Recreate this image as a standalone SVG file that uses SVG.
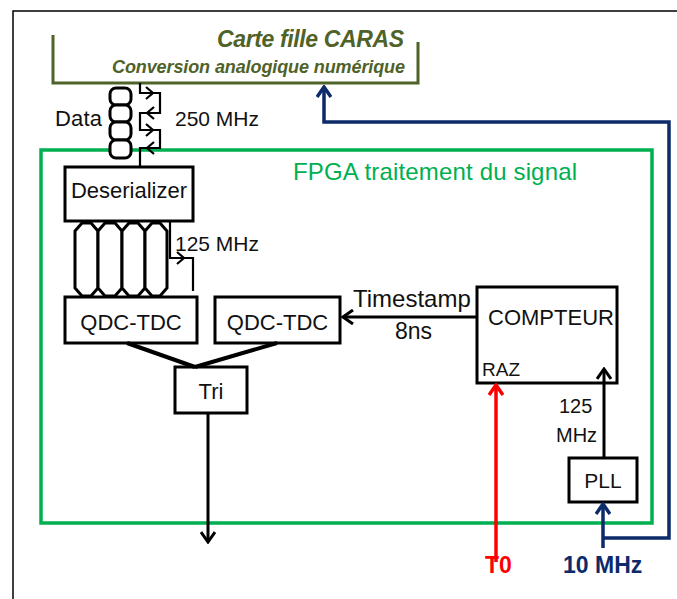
<svg xmlns="http://www.w3.org/2000/svg" width="677" height="599" viewBox="0 0 677 599">
<style>
text{font-family:"Liberation Sans",Arial,sans-serif;fill:#111}
.box{fill:#fff;stroke:#000;stroke-width:3}
.ln{fill:none;stroke:#000;stroke-width:3}
.thin{fill:none;stroke:#000;stroke-width:2.2}
.t20{font-size:20px}
.t22{font-size:22px}
.olive{fill:#4f6228;font-weight:bold;font-style:italic}
</style>
<defs>
<marker id="ab" markerUnits="userSpaceOnUse" markerWidth="16" markerHeight="16" viewBox="0 0 16 16" refX="14" refY="8" orient="auto"><path d="M4,1 L14,8 L4,15" fill="none" stroke="#000" stroke-width="3"/></marker>
<marker id="ar" markerUnits="userSpaceOnUse" markerWidth="16" markerHeight="16" viewBox="0 0 16 16" refX="14" refY="8" orient="auto"><path d="M4,1 L14,8 L4,15" fill="none" stroke="#ff0000" stroke-width="3.5"/></marker>
<marker id="an" markerUnits="userSpaceOnUse" markerWidth="16" markerHeight="16" viewBox="0 0 16 16" refX="14" refY="8" orient="auto"><path d="M4,1 L14,8 L4,15" fill="none" stroke="#0d2a6b" stroke-width="3.5"/></marker>
</defs>
<rect x="0" y="0" width="677" height="599" fill="#fff"/>
<rect x="13" y="11" width="700" height="620" fill="none" stroke="#000" stroke-width="1.5"/>

<g id="carte">
<path d="M53,35 V83 H418 V42" fill="none" stroke="#4f6228" stroke-width="3"/>
<text class="olive" x="404" y="47" font-size="23" text-anchor="end" textLength="187">Carte fille CARAS</text>
<text class="olive" x="405" y="73" font-size="18" text-anchor="end" textLength="293">Conversion analogique numérique</text>
</g>

<g id="fpga">
<rect x="41" y="150" width="611" height="373" fill="none" stroke="#00b050" stroke-width="3.5"/>
<text x="293" y="180" font-size="24" textLength="284" style="fill:#00b050">FPGA traitement du signal</text>
</g>

<g id="data">
<rect class="box" x="110" y="88" width="21" height="17" rx="6"/>
<rect class="box" x="110" y="105" width="21" height="17" rx="6"/>
<rect class="box" x="110" y="122" width="21" height="18" rx="6"/>
<rect class="box" x="110" y="140" width="21" height="18" rx="6"/>
<text x="55" y="126" font-size="22" textLength="47">Data</text>
</g>

<g id="clk250">
<path class="thin" d="M140,83 V93 H160 V113 H140 V130 H160 V148 H140 V167"/>
<path class="thin" d="M146,87 L153,93 L146,99 M154,107 L147,113 L154,119 M146,124 L153,130 L146,136 M154,142 L147,148 L154,154"/>
<text x="175" y="126" font-size="21">250 MHz</text>
</g>

<g id="deserializer">
<rect class="box" x="65" y="167" width="128" height="54"/>
<text class="t22" x="129" y="198" text-anchor="middle">Deserializer</text>
</g>

<g id="lanes" fill="#fff" stroke="#000" stroke-width="3">
<polygon points="75,231 82,223 91,223 98,231 98,288 91,296 82,296 75,288"/>
<polygon points="98,231 105,223 115,223 122,231 122,288 115,296 105,296 98,288"/>
<polygon points="122,231 129,223 138,223 145,231 145,288 138,296 129,296 122,288"/>
<polygon points="145,231 152,223 160,223 167,231 167,288 160,296 152,296 145,288"/>
</g>

<g id="clk125">
<path class="thin" d="M170,221 V258 H193 V291"/>
<path class="thin" d="M177,252 L184,258 L177,264"/>
<text x="175" y="251" font-size="21">125 MHz</text>
</g>

<g id="qdc1">
<rect class="box" x="65" y="297" width="132" height="46"/>
<text class="t22" x="131" y="330" text-anchor="middle">QDC-TDC</text>
</g>
<g id="qdc2">
<rect class="box" x="215" y="297" width="125" height="46"/>
<text class="t22" x="277.5" y="330" text-anchor="middle">QDC-TDC</text>
</g>
<g id="tri">
<rect class="box" x="175" y="367" width="72" height="46"/>
<text class="t22" x="211" y="399" text-anchor="middle">Tri</text>
</g>
<g id="compteur">
<rect class="box" x="477" y="287" width="140" height="96"/>
<text class="t22" x="488" y="325" textLength="126">COMPTEUR</text>
<text x="482" y="376" font-size="19">RAZ</text>
</g>
<g id="pll">
<rect class="box" x="569" y="458" width="68" height="44"/>
<text x="603" y="488" font-size="21" text-anchor="middle">PLL</text>
</g>

<g id="connectors">
<path d="M127,343 L195,367 M277,343 L195,367" fill="none" stroke="#000" stroke-width="4"/>
<path class="ln" d="M208,413 V542" marker-end="url(#ab)"/>
<path class="ln" d="M477,317 H343" marker-end="url(#ab)"/>
<path class="ln" d="M604,458 V369" marker-end="url(#ab)"/>
<path d="M496,562 V385" fill="none" stroke="#ff0000" stroke-width="3.5" marker-end="url(#ar)"/>
<path d="M603,538 H669 V122 H324 V87" fill="none" stroke="#0d2a6b" stroke-width="3.5" marker-end="url(#an)"/>
<path d="M603,548 V504" fill="none" stroke="#0d2a6b" stroke-width="3.5" marker-end="url(#an)"/>
</g>

<g id="labels">
<text x="353" y="307" font-size="24">Timestamp</text>
<text x="395" y="339" font-size="23">8ns</text>
<text class="t20" x="559" y="413">125</text>
<text class="t20" x="556" y="442">MHz</text>
<text x="485" y="573" font-size="23" font-weight="bold" style="fill:#ff0000">T0</text>
<text x="563" y="573" font-size="23" font-weight="bold" style="fill:#0d2a6b">10 MHz</text>
</g>
</svg>
